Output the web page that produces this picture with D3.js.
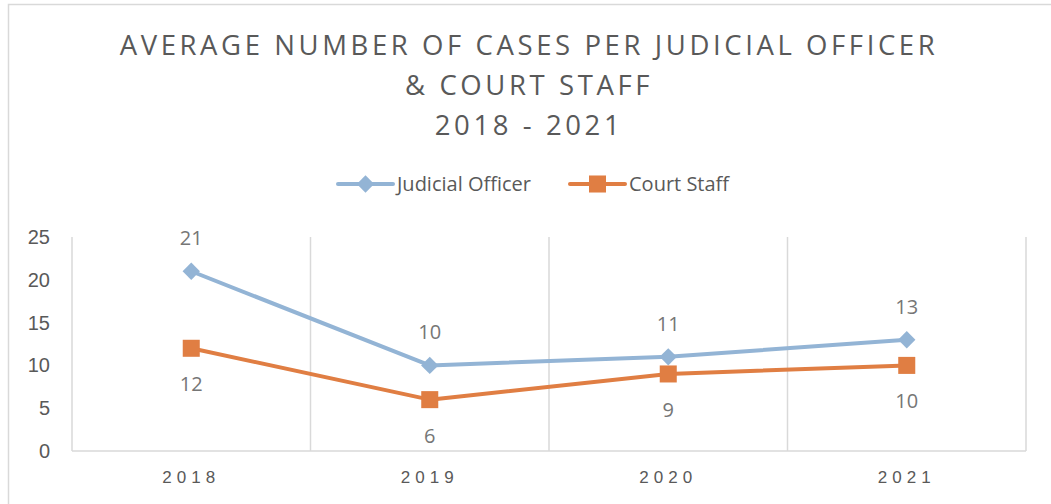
<!DOCTYPE html>
<html lang="en">
<head>
    <meta charset="UTF-8">
    <title>Average number of cases per judicial officer & court staff</title>
    <script src="https://cdn.jsdelivr.net/npm/d3@7"></script>
    <style>
        body {margin: 0; background: #fff;}
        svg {display: block; font-family: "Open Sans", "Noto Sans", sans-serif;}
    </style>
</head>
<body>
<svg id="chart"></svg>
<script>
    // DATA
    const years = ["2018", "2019", "2020", "2021"];
    const judicialOfficer = [21, 10, 11, 13];
    const courtStaff = [12, 6, 9, 10];
    const yTicks = [0, 5, 10, 15, 20, 25];
    const titleLines = ["AVERAGE NUMBER OF CASES PER JUDICIAL OFFICER", "& COURT STAFF", "2018 - 2021"];

    const series = [
        {name: "Judicial Officer", values: judicialOfficer, color: "#93b4d5", rotate: 45, size: 150, labelDy: -33},
        {name: "Court Staff", values: courtStaff, color: "#e07e43", rotate: 0, size: 290, labelDy: 36}
    ];

    const dim = {width: 1051, height: 504};
    const plot = {left: 72, right: 1026, top: 237, bottom: 451};

    const svg = d3.select("#chart").attr("width", dim.width).attr("height", dim.height);

    // outer chart border (runs off the right and bottom of the picture)
    svg.append("rect")
       .attr("x", 8.5).attr("y", 4.5)
       .attr("width", 1100).attr("height", 600)
       .attr("fill", "none").attr("stroke", "#d9d9d9").attr("stroke-width", 1.5);

    // Title, letter-spaced so the first line spans ~815px
    const lines = svg.append("g").selectAll("text")
        .data(titleLines)
        .join("text")
          .attr("x", 529)
          .attr("y", (d, i) => 55 + i*40)
          .attr("text-anchor", "middle")
          .attr("font-size", 27.5)
          .attr("fill", "#595959")
          .text(d => d);
    const natural = lines.node().getComputedTextLength();
    const spacing = (815 - natural) / (titleLines[0].length - 1);
    lines.attr("letter-spacing", spacing);

    // Scales
    const x = d3.scaleBand().domain(years).range([plot.left, plot.right]);
    const y = d3.scaleLinear().domain([0, 25]).range([plot.bottom, plot.top]);
    const cx = d => x(d) + x.bandwidth()/2;

    // Vertical gridlines at category boundaries
    const bounds = years.map(d => x(d)).concat([plot.right]);
    svg.append("g").selectAll("line")
       .data(bounds)
       .join("line")
         .attr("x1", d => d).attr("x2", d => d)
         .attr("y1", plot.top).attr("y2", plot.bottom)
         .attr("stroke", "#d9d9d9").attr("stroke-width", 1.5);

    // Baseline
    svg.append("line")
       .attr("x1", plot.left).attr("x2", plot.right)
       .attr("y1", plot.bottom).attr("y2", plot.bottom)
       .attr("stroke", "#d9d9d9").attr("stroke-width", 1.5);

    // Y axis labels
    const yAxis = d3.axisLeft(y).tickValues(yTicks).tickSize(0).tickPadding(22);
    svg.append("g")
       .attr("transform", `translate(${plot.left},0)`)
       .call(yAxis)
       .call(g => g.select(".domain").remove())
       .call(g => g.selectAll("text")
                   .attr("font-size", 20)
                   .attr("font-family", null)
                   .attr("fill", "#595959"));

    // X axis labels
    const xAxis = d3.axisBottom(x).tickSize(0).tickPadding(20);
    svg.append("g")
       .attr("transform", `translate(0,${plot.bottom})`)
       .call(xAxis)
       .call(g => g.select(".domain").remove())
       .call(g => g.selectAll("text")
                   .attr("font-size", 17)
                   .attr("font-family", null)
                   .attr("letter-spacing", 5)
                   .attr("fill", "#595959"));

    // Lines, markers, data labels
    const line = d3.line().x((d, i) => cx(years[i])).y(d => y(d));

    series.forEach(s => {
        const g = svg.append("g");
        g.append("path")
         .attr("d", line(s.values))
         .attr("fill", "none")
         .attr("stroke", s.color)
         .attr("stroke-width", 4)
         .attr("stroke-linejoin", "round");

        g.selectAll("path.marker")
         .data(s.values)
         .join("path").attr("class", "marker")
           .attr("d", d3.symbol(d3.symbolSquare, s.size))
           .attr("transform", (d, i) => `translate(${cx(years[i])},${y(d)}) rotate(${s.rotate})`)
           .attr("fill", s.color);

        g.selectAll("text")
         .data(s.values)
         .join("text")
           .attr("x", (d, i) => cx(years[i]))
           .attr("y", d => y(d) + s.labelDy)
           .attr("dy", "0.35em")
           .attr("text-anchor", "middle")
           .attr("font-size", 20)
           .attr("fill", "#767676")
           .text(d => d);
    });

    // Legend
    const legend = svg.append("g").attr("transform", "translate(0,184)");
    const legendX = [338, 570];
    series.forEach((s, i) => {
        const lg = legend.append("g").attr("transform", `translate(${legendX[i]},0)`);
        lg.append("line")
          .attr("x1", 0).attr("x2", 55)
          .attr("stroke", s.color).attr("stroke-width", 4)
          .attr("stroke-linecap", "round");
        lg.append("path")
          .attr("d", d3.symbol(d3.symbolSquare, s.size))
          .attr("transform", `translate(27.5,0) rotate(${s.rotate})`)
          .attr("fill", s.color);
        lg.append("text")
          .attr("x", 59)
          .attr("dy", "0.35em")
          .attr("font-size", 20)
          .attr("fill", "#595959")
          .text(s.name);
    });
</script>
</body>
</html>
